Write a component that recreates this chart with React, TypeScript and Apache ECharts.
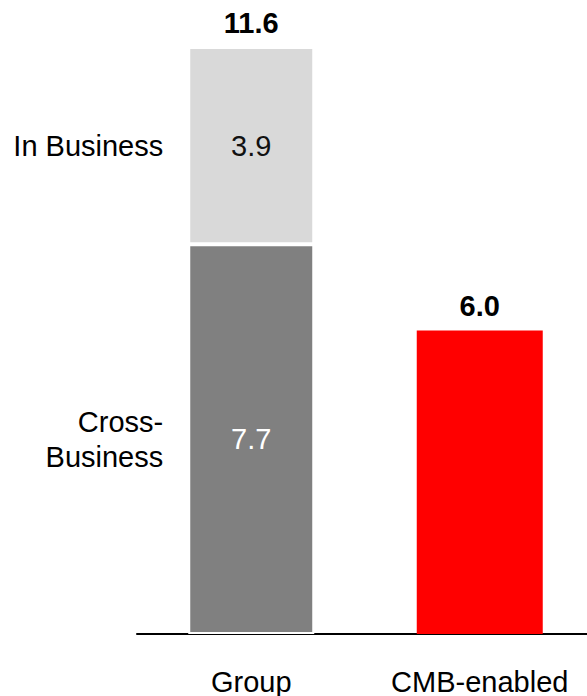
import React, { useEffect, useRef } from "react";
import * as echarts from "echarts";

const categories = ["Group", "CMB-enabled"];
const crossBusiness: (number | string)[] = [7.7, "-"];
const inBusiness: (number | string)[] = [3.9, "-"];
const cmbEnabled: (number | string)[] = ["-", 6.0];
const totals = [11.6, 6.0];
const segmentNames = ["Cross-\nBusiness", "In Business"];

const FONT = "'Liberation Sans', Arial, sans-serif";
const FS = 29;

export default function App() {
  const ref = useRef<HTMLDivElement>(null);
  useEffect(() => {
    if (!ref.current) return;
    const chart = echarts.init(ref.current, null, { renderer: "svg" });
    const option: any = {
      animation: false,
      grid: { left: 137, right: 0, top: 47, bottom: 62, containLabel: false },
      xAxis: {
        type: "category",
        data: categories,
        axisLine: { lineStyle: { color: "#000", width: 2 } },
        axisTick: { show: false },
        axisLabel: { color: "#000", fontSize: FS, fontFamily: FONT, margin: 33, interval: 0 },
      },
      yAxis: { type: "value", min: 0, max: 11.6, show: false, splitLine: { show: false } },
      series: [
        {
          name: "Cross-Business",
          type: "bar",
          stack: "total",
          barWidth: 126,
          data: crossBusiness,
          itemStyle: { color: "#808080", borderColor: "#fff", borderWidth: 2 },
          label: { show: true, position: "inside", color: "#fff", fontSize: FS, fontFamily: FONT },
        },
        {
          name: "In Business",
          type: "bar",
          stack: "total",
          data: inBusiness,
          itemStyle: { color: "#d9d9d9", borderColor: "#fff", borderWidth: 2 },
          label: { show: true, position: "inside", color: "#111", fontSize: FS, fontFamily: FONT },
        },
        {
          name: "CMB-enabled",
          type: "bar",
          stack: "total",
          data: cmbEnabled,
          itemStyle: { color: "#ff0000" },
        },
        {
          name: "Total",
          type: "bar",
          stack: "total",
          data: totals.map(() => 0),
          itemStyle: { color: "transparent" },
          label: {
            show: true,
            position: "top",
            distance: 10,
            color: "#000",
            fontWeight: "bold",
            fontSize: FS,
            fontFamily: FONT,
            formatter: (p: any) => totals[p.dataIndex].toFixed(1),
          },
        },
      ],
    };
    chart.setOption(option);

    const cb = crossBusiness[0] as number;
    const ib = inBusiness[0] as number;
    const pCross = chart.convertToPixel({ xAxisIndex: 0, yAxisIndex: 0 }, [0, cb / 2]) as number[];
    const pIn = chart.convertToPixel({ xAxisIndex: 0, yAxisIndex: 0 }, [0, cb + ib / 2]) as number[];
    const xRight = pIn[0] - 63 - 25;
    chart.setOption({
      graphic: [
        {
          type: "text",
          x: xRight,
          y: pIn[1],
          style: {
            text: segmentNames[1],
            fill: "#000",
            font: `${FS}px ${FONT}`,
            textAlign: "right",
            textVerticalAlign: "middle",
          },
        },
        {
          type: "text",
          x: xRight,
          y: pCross[1],
          style: {
            text: segmentNames[0],
            fill: "#000",
            font: `${FS}px ${FONT}`,
            lineHeight: 35,
            textAlign: "right",
            textVerticalAlign: "middle",
          },
        },
      ],
    });
    return () => chart.dispose();
  }, []);
  return (
    <div style={{ position: "absolute", left: 0, top: 0, width: 587, height: 696, overflow: "hidden" }}>
      <div ref={ref} style={{ width: 594, height: 696 }} />
    </div>
  );
}
